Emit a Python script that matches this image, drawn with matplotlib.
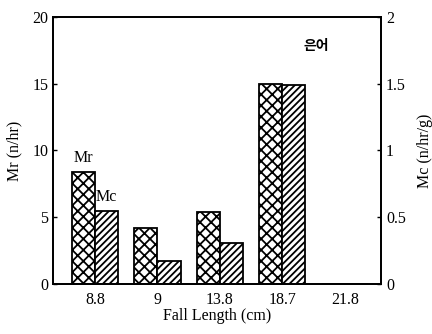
import matplotlib
matplotlib.use('Agg')
from matplotlib import pyplot as plt
import numpy as np

# fall length categories and catch rates
lengths = ['8.8', '9', '13.8', '18.7', '21.8']
mr = [8.4, 4.2, 5.4, 15.0, 0.0]        # n/hr, left axis
mc = [0.55, 0.17, 0.31, 1.49, 0.0]     # n/hr/g, right axis

plt.rcParams['font.family'] = ['Liberation Serif', 'Noto Sans CJK KR']
plt.rcParams['hatch.linewidth'] = 1.3

fig = plt.figure(figsize=(4.32, 3.34), dpi=100)
ax = fig.add_axes([0.123, 0.150, 0.759, 0.799])
ax2 = ax.twinx()

x = np.arange(len(lengths))
w = 0.37
ax.bar(x - w/2, mr, w, color='white', edgecolor='black', hatch='xxx', linewidth=1.3, zorder=2)
ax2.bar(x + w/2, mc, w, color='white', edgecolor='black', hatch='/////', linewidth=1.3, zorder=2)

ax.set_xlim(-0.67, 4.58)
ax.set_ylim(0, 20)
ax2.set_ylim(0, 2)
ax.set_yticks([0, 5, 10, 15, 20])
ax2.set_yticks([0, 0.5, 1, 1.5, 2])
ax2.set_yticklabels(['0', '0.5', '1', '1.5', '2'])
ax.set_xticks(x)
ax.set_xticklabels(lengths)

for a in (ax, ax2):
    a.tick_params(direction='in', length=3, labelsize=11.5, width=1)
    for s in a.spines.values():
        s.set_linewidth(1.3)
ax.tick_params(axis='x', length=0, pad=6)

ax.set_xlabel('Fall Length (cm)', fontsize=11.5, labelpad=0)
ax.set_ylabel('Mr (n/hr)', fontsize=11.5, labelpad=7)
ax2.set_ylabel('Mc (n/hr/g)', fontsize=11.5, labelpad=8)

ax.text(x[0] - w/2, mr[0] + 0.4, 'Mr', ha='center', va='bottom', fontsize=11.5)
ax2.text(x[0] + w/2, mc[0] + 0.04, 'Mc', ha='center', va='bottom', fontsize=11.5)
ax.text(3.55, 17.8, '은어', ha='center', va='center', fontsize=10,
        family=['Noto Sans CJK KR'], fontweight='bold')

plt.savefig('out.png', dpi=100)
